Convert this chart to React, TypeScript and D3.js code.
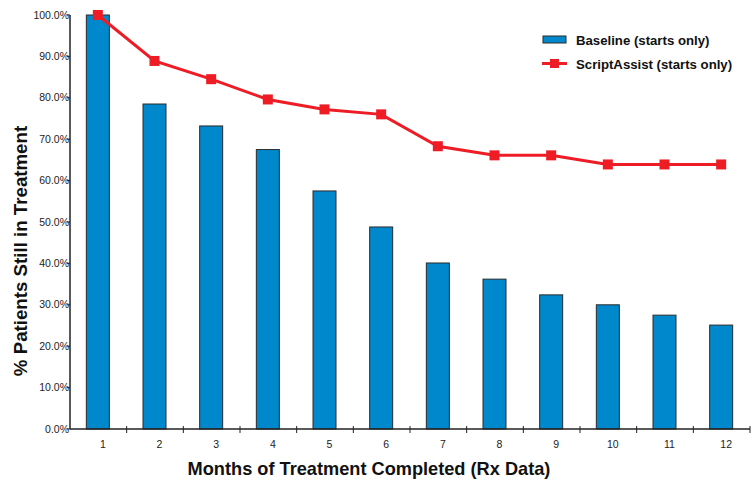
import React from "react";
import * as d3 from "d3";

const months = ["1", "2", "3", "4", "5", "6", "7", "8", "9", "10", "11", "12"];
const baseline = [100, 78.5, 73.2, 67.5, 57.5, 48.8, 40.1, 36.2, 32.4, 30.0, 27.5, 25.1];
const scriptAssist = [100, 88.9, 84.5, 79.6, 77.2, 76.0, 68.3, 66.1, 66.1, 63.9, 63.9, 63.9];
const yTicks = [0, 10, 20, 30, 40, 50, 60, 70, 80, 90, 100];

const W = 755;
const H = 480;
const margin = { left: 70, right: 5, top: 15, bottom: 51 };
const FONT = "'Liberation Sans', Arial, Helvetica, sans-serif";

export default function App() {
  const x = d3
    .scaleBand<string>()
    .domain(months)
    .range([margin.left, 750])
    .paddingInner(0)
    .paddingOuter(0);
  const y = d3.scaleLinear().domain([0, 100]).range([H - margin.bottom, margin.top]);
  const bw = 23;
  const cx = (m: string) => (x(m) as number) + x.bandwidth() / 2 - 0.5;
  const line = d3
    .line<number>()
    .x((_, i) => cx(months[i]))
    .y((d) => y(d));
  const y0 = y(0);
  const tickPositions = months.map((m) => (x(m) as number) + x.bandwidth());

  return (
    <svg
      width={W}
      height={H}
      style={{ position: "absolute", left: 0, top: 0, background: "#fff" }}
      fontFamily={FONT}
    >
      {/* bars */}
      {baseline.map((v, i) => (
        <rect
          key={"b" + i}
          x={cx(months[i]) - bw / 2}
          y={y(v)}
          width={bw}
          height={y0 - y(v)}
          fill="#0088CC"
          stroke="#2b2b2b"
          strokeWidth={1}
        />
      ))}
      {/* axes */}
      <line x1={margin.left} x2={margin.left} y1={margin.top} y2={y0} stroke="#222" strokeWidth={1.5} />
      <line x1={margin.left} x2={750} y1={y0} y2={y0} stroke="#222" strokeWidth={1.5} />
      {yTicks.map((t) => (
        <g key={"yt" + t}>
          <line x1={margin.left - 3} x2={margin.left} y1={y(t)} y2={y(t)} stroke="#222" strokeWidth={1} />
          <text
            x={margin.left - 1}
            y={y(t)}
            dy="0.35em"
            textAnchor="end"
            fontSize={10.5}
            fill="#222"
          >
            {t.toFixed(1) + "%"}
          </text>
        </g>
      ))}
      {tickPositions.map((p, i) => (
        <line key={"xt" + i} x1={p} x2={p} y1={y0 - 3} y2={y0 + 4} stroke="#222" strokeWidth={1} />
      ))}
      {months.map((m) => (
        <text
          key={"xl" + m}
          x={cx(m) + 5}
          y={y0 + 19}
          textAnchor="middle"
          fontSize={10.5}
          fill="#222"
        >
          {m}
        </text>
      ))}
      {/* line series */}
      <path d={line(scriptAssist) || ""} fill="none" stroke="#EE1C25" strokeWidth={3} />
      {scriptAssist.map((v, i) => (
        <rect key={"m" + i} x={cx(months[i]) - 5} y={y(v) - 5} width={10} height={10} fill="#EE1C25" />
      ))}
      {/* titles */}
      <text
        transform={`translate(27,251) rotate(-90)`}
        textAnchor="middle"
        fontSize={18.7}
        fontWeight="bold"
        fill="#111"
      >
        % Patients Still in Treatment
      </text>
      <text x={369} y={475} textAnchor="middle" fontSize={18.2} fontWeight="bold" fill="#111">
        Months of Treatment Completed (Rx Data)
      </text>
      {/* legend */}
      <rect x={543} y={36} width={23} height={7} fill="#0088CC" stroke="#2b2b2b" strokeWidth={1} />
      <text x={576} y={40} dy="0.35em" fontSize={13.2} fontWeight="bold" fill="#111">
        Baseline (starts only)
      </text>
      <line x1={542} x2={567} y1={63.5} y2={63.5} stroke="#EE1C25" strokeWidth={3} />
      <rect x={550} y={59} width={9} height={9} fill="#EE1C25" />
      <text x={576} y={64} dy="0.35em" fontSize={13.2} fontWeight="bold" fill="#111">
        ScriptAssist (starts only)
      </text>
    </svg>
  );
}
